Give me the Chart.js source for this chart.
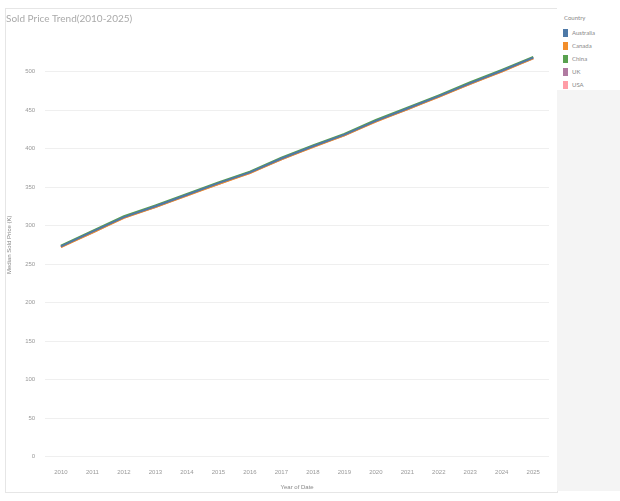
<!DOCTYPE html>
<html>
<head>
  <title>Sold Price Trend</title>
  <style>
    body { margin: 0; background: #fff; font-family: Lato, "DejaVu Sans", sans-serif; }
    #wrap { position: relative; width: 620px; height: 501px; }
    #box { position: absolute; left: 5px; top: 8px; width: 551px; height: 483px; border: 1px solid #e6e6e6; background: #fff; }
    #side { position: absolute; left: 557px; top: 8px; width: 63px; height: 483px; background: #f4f4f4; }
    #legend { background: #fff; height: 82px; padding: 4px 0 0 6px; box-sizing: border-box; font-size: 6px; color: #888; }
    #legend .t { margin: 2px 0 5px 1px; }
    #legend .row { display: flex; align-items: center; height: 13px; }
    #legend .sw { width: 5px; height: 8px; margin-right: 4px; }
  </style>
</head>
<body>
<div id="wrap">
  <div id="box"><canvas id="myChart"></canvas></div>
  <div id="side"><div id="legend"></div></div>
</div>
<script src="https://cdn.jsdelivr.net/npm/chart.js@4.4.1/dist/chart.umd.min.js"></script>
<script>
// data
let years = ['2010','2011','2012','2013','2014','2015','2016','2017','2018','2019','2020','2021','2022','2023','2024','2025'];
let countries = ['Australia', 'Canada', 'China', 'UK', 'USA'];
let colors = ['#4e79a7', '#f28e2b', '#59a14f', '#b07aa1', '#ff9da7'];

let australia = [273, 292, 311, 325, 340, 355, 369, 387, 403, 418, 436, 452, 468, 485, 501, 518];
let canada    = [272, 291, 310, 324, 339, 354, 368, 386, 402, 417, 435, 451, 467, 484, 500, 517];
let china     = [274, 293, 312, 326, 341, 356, 370, 388, 404, 419, 437, 453, 469, 486, 502, 519];
let uk        = [273, 291, 311, 324, 340, 354, 369, 386, 403, 417, 436, 451, 468, 484, 501, 517];
let usa       = [272, 292, 310, 325, 339, 355, 368, 387, 402, 418, 435, 452, 467, 485, 500, 518];
let seriesData = [australia, canada, china, uk, usa];

let yTicks = [0, 50, 100, 150, 200, 250, 300, 350, 400, 450, 500];

// legend on the right
let legend = document.getElementById('legend');
legend.innerHTML = '<div class="t">Country</div>' + countries.map((c, i) =>
  '<div class="row"><div class="sw" style="background:' + colors[i] + '"></div>' + c + '</div>').join('');

let ctx = document.getElementById('myChart').getContext('2d');
let chart = new Chart(ctx, {
  type: 'line',
  data: {
    labels: years,
    datasets: countries.map((c, i) => ({
      label: c,
      data: seriesData[i],
      borderColor: colors[i],
      backgroundColor: colors[i],
      borderWidth: 2,
      pointRadius: 0,
      tension: 0
    }))
  },
  options: {
    responsive: true,
    maintainAspectRatio: false,
    animation: false,
    layout: { padding: { top: 0, right: 8, bottom: 0, left: 0 } },
    plugins: {
      legend: { display: false },
      tooltip: { enabled: false },
      title: {
        display: true,
        text: 'Sold Price Trend(2010-2025)',
        align: 'start',
        color: '#aaa',
        font: { size: 10, family: 'Lato', weight: 'normal' },
        padding: { top: 4, bottom: 8 }
      }
    },
    scales: {
      x: {
        offset: true,
        grid: { display: false },
        border: { display: false },
        ticks: { color: '#999', font: { size: 6 }, maxRotation: 0, padding: 4 },
        title: { display: true, text: 'Year of Date', color: '#888', font: { size: 6 }, padding: { top: 4, bottom: 1 } }
      },
      y: {
        min: 0,
        max: 550,
        afterBuildTicks: axis => { axis.ticks = yTicks.concat([550]).map(v => ({ value: v })); },
        grid: {
          color: c => c.tick && c.tick.value === 550 ? 'rgba(0,0,0,0)' : '#efefef',
          drawTicks: false
        },
        border: { display: false },
        ticks: {
          color: '#999',
          font: { size: 6 },
          padding: 10,
          callback: v => v === 550 ? '' : v
        },
        title: { display: true, text: 'Median Sold Price (K)', color: '#888', font: { size: 6 }, padding: { top: 0, bottom: 2 } }
      }
    }
  }
});
</script>
</body>
</html>
